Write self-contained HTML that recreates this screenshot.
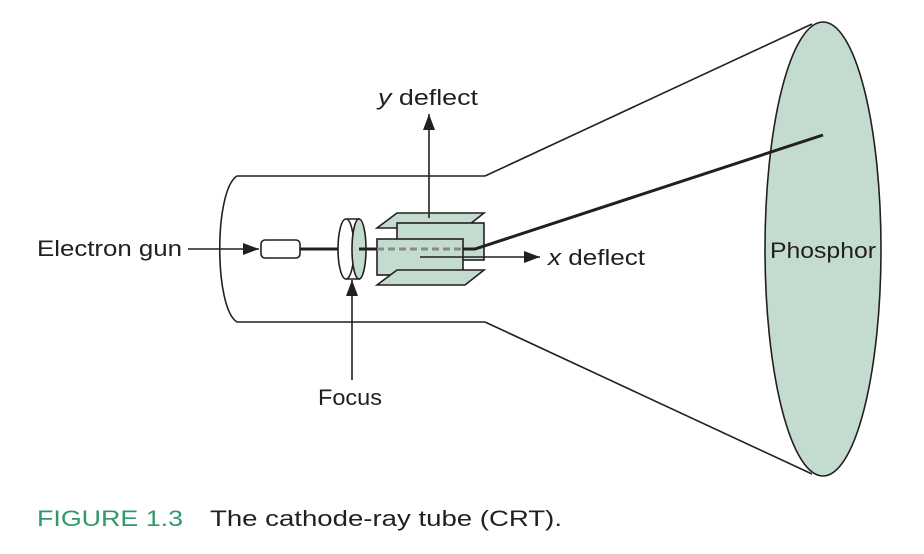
<!DOCTYPE html>
<html><head><style>
html,body{margin:0;padding:0;background:#fff;}
svg{display:block;}
text{font-family:"Liberation Sans",sans-serif;fill:#231f20;}
</style></head><body>
<svg width="924" height="554" viewBox="0 0 924 554" xmlns="http://www.w3.org/2000/svg">
<defs>
<marker id="ahb" markerWidth="16" markerHeight="12" refX="16" refY="6" orient="auto" markerUnits="userSpaceOnUse">
<path d="M0,0 L16,6 L0,12 z" fill="#231f20"/>
</marker>
</defs>
<g stroke="#231f20" stroke-width="1.6" fill="none">
<path d="M485,176 L237,176 C214,190 214,308 237,322 L485,322"/>
<line x1="485" y1="176" x2="812" y2="24"/>
<line x1="485" y1="322" x2="812" y2="474"/>
<ellipse cx="823" cy="249" rx="58" ry="227" fill="#c3dccf"/>
<rect x="261" y="240" width="39" height="18" rx="4" fill="#fff"/>
<line x1="300" y1="249" x2="342" y2="249" stroke-width="3"/>
<path d="M346,219 L359,219 L359,279 L346,279" fill="#fff"/>
<ellipse cx="346" cy="249" rx="8" ry="30" fill="#fff"/>
<ellipse cx="359" cy="249" rx="7" ry="30" fill="#c3dccf"/>
<line x1="359" y1="249" x2="377" y2="249" stroke-width="3"/>
<polygon points="377,228 397,213 484,213 465,228" fill="#c3dccf"/>
<rect x="397" y="223" width="87" height="37" fill="#c3dccf"/>
<rect x="377" y="239" width="86" height="36" fill="#c3dccf"/>
<polygon points="377,285 397,270 484,270 465,285" fill="#c3dccf"/>
<line x1="377" y1="249" x2="465" y2="249" stroke="#888" stroke-width="3" stroke-dasharray="7,4"/>
<polyline points="463,249 475,249 823,135" stroke-width="3"/>
<line x1="188" y1="249" x2="259" y2="249" marker-end="url(#ahb)"/>
<line x1="420" y1="257" x2="540" y2="257" marker-end="url(#ahb)"/>
<line x1="429" y1="218" x2="429" y2="114" marker-end="url(#ahb)"/>
<line x1="352" y1="380" x2="352" y2="280" marker-end="url(#ahb)"/>
</g>
<text x="378" y="105" font-size="22" textLength="100" lengthAdjust="spacingAndGlyphs"><tspan font-style="italic">y</tspan> deflect</text>
<text x="37" y="256" font-size="22" textLength="145" lengthAdjust="spacingAndGlyphs">Electron gun</text>
<text x="548" y="265" font-size="22" textLength="97" lengthAdjust="spacingAndGlyphs"><tspan font-style="italic">x</tspan> deflect</text>
<text x="318" y="405" font-size="22" textLength="64" lengthAdjust="spacingAndGlyphs">Focus</text>
<text x="770" y="258" font-size="22" textLength="106" lengthAdjust="spacingAndGlyphs">Phosphor</text>
<text x="37" y="526" font-size="22" style="fill:#2e9a6a" textLength="146" lengthAdjust="spacingAndGlyphs">FIGURE 1.3</text>
<text x="210" y="526" font-size="22" textLength="352" lengthAdjust="spacingAndGlyphs">The cathode-ray tube (CRT).</text>
</svg>
</body></html>
